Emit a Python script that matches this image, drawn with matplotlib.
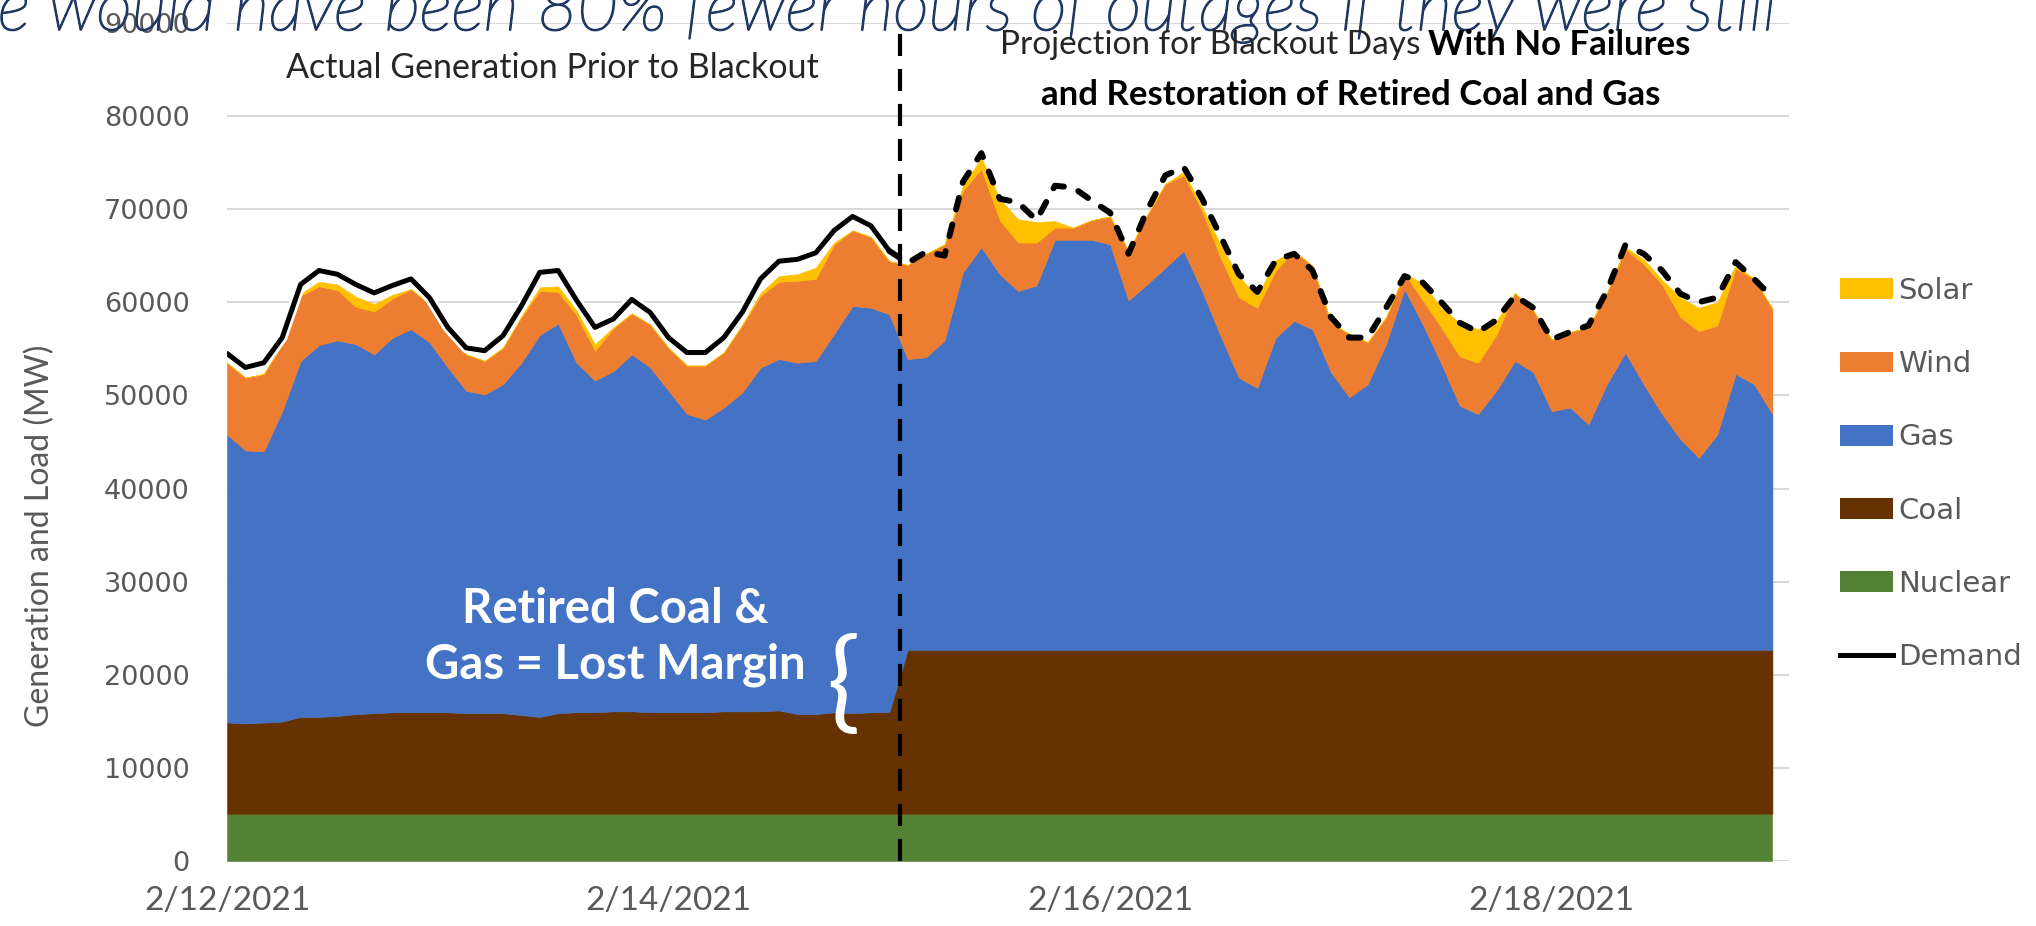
"""ERCOT 发电结构堆叠面积图"""

import matplotlib.pyplot as plt
import matplotlib.patheffects as pe
from matplotlib.lines import Line2D
from matplotlib.patches import Patch

# 数据：每两小时一个点，从 2/12/2021 0:00 开始（单位 MW）
hours = list(range(0, 169, 2))

nuclear = [5100] * 85

coal = [9800, 9700, 9800, 9900, 10400, 10400, 10500, 10700, 10800, 10900,
        10900, 10900, 10900, 10800, 10800, 10800, 10600, 10400, 10800, 10900,
        10900, 11000, 11000, 10900, 10900, 10900, 10900, 11000, 11000, 11000,
        11100, 10700, 10700, 10900, 10800, 10900, 10900] + [17600] * 48

gas = [30900, 29300, 29100, 33300, 38200, 39900, 40300, 39700, 38500, 40200,
       41100, 39700, 37000, 34600, 34200, 35300, 37800, 41000, 41800, 37500,
       35600, 36500, 38300, 37000, 34500, 32000, 31400, 32600, 34200, 36900,
       37700, 37700, 37900, 40600, 43700, 43400, 42700,
       31200, 31400, 33200, 40500, 43200, 40300, 38500, 39100, 44000, 44000,
       44000, 43500, 37500, 39200, 41000, 42800, 38500, 33700, 29200, 28100,
       33500, 35300, 34400, 29800, 27100, 28500, 32800, 38700, 34900, 30700,
       26200, 25300, 27800, 31000, 29800, 25600, 26000, 24200, 28500, 31900,
       28500, 25300, 22600, 20600, 23100, 29600, 28500, 25300]

wind = [7700, 7800, 8300, 7200, 7000, 6300, 5400, 4000, 4600, 4200,
        4300, 4100, 3700, 3900, 3600, 3900, 4900, 4700, 3400, 5100,
        3200, 4600, 4400, 4600, 4600, 5200, 5800, 5900, 7200, 7700,
        8300, 8800, 8800, 9600, 8100, 7600, 5700,
        10100, 11100, 10300, 8800, 8400, 5800, 5200, 4600, 1300, 1300,
        2100, 3000, 5300, 7400, 9000, 8100, 8600, 8400, 8600, 8600,
        7200, 7500, 6800, 5300, 6800, 4500, 2900, 1700, 2600, 3900,
        5300, 5500, 6000, 7300, 6600, 7700, 8100, 10400, 9800, 11100,
        12900, 13900, 13100, 13600, 11700, 11300, 11300, 11300]

solar = [0, 0, 0, 0, 200, 500, 600, 1100, 800, 400,
         0, 0, 0, 0, 0, 0, 100, 400, 600, 500,
         700, 100, 0, 0, 0, 0, 0, 0, 100, 300,
         600, 700, 1200, 200, 0, 0, 0,
         0, 0, 0, 500, 1200, 2300, 2500, 2200, 700, 0,
         0, 0, 0, 0, 0, 400, 400, 1400, 2200, 1300,
         1100, 0, 0, 0, 0, 0, 0, 0, 1800, 2100,
         3600, 3600, 1500, 0, 0, 0, 0, 0, 0, 200,
         500, 500, 2100, 2500, 2500, 400, 0, 0]

demand = [54500, 53000, 53500, 56200, 61900, 63400, 63000, 61900, 61000, 61800,
          62500, 60500, 57300, 55100, 54800, 56400, 59600, 63200, 63400, 60200,
          57300, 58200, 60300, 58900, 56200, 54600, 54600, 56200, 58900, 62500,
          64400, 64600, 65300, 67700, 69200, 68200, 65500,
          64200, 65400, 65000, 72900, 76000, 71100, 70700, 68800, 72500, 72300,
          70900, 69600, 65200, 69800, 73600, 74500, 71100, 67100, 63000, 61100,
          64500, 65200, 63400, 58400, 56200, 56200, 59400, 62800, 62100, 60000,
          57800, 56800, 58100, 60700, 59400, 56000, 56800, 57500, 61200, 66100,
          65200, 63400, 60900, 60000, 60500, 64300, 62500, 60500]

blackout_hour = 73.2
tick_hours = [0, 48, 96, 144]
tick_labels = ['2/12/2021', '2/14/2021', '2/16/2021', '2/18/2021']

series_names = ['Nuclear', 'Coal', 'Gas', 'Wind', 'Solar']
series_colors = ['#548235', '#663300', '#4472C4', '#ED7D31', '#FFC000']

W, H = 2036, 926
body = ['Lato', 'DejaVu Sans']
grey = '#595959'
navy = '#1F3864'

fig = plt.figure(figsize=(W / 100, H / 100), dpi=100)
ax = fig.add_axes([227 / W, 64.6 / H, 1562 / W, 838.8 / H])

# 堆叠面积
ax.stackplot(hours, nuclear, coal, gas, wind, solar, colors=series_colors,
             edgecolor='face', linewidth=0.4, zorder=2)

# 需求曲线：停电前实线，停电期间虚线
split = hours.index(72)
ax.plot(hours[:split + 1], demand[:split + 1], color='black', lw=3.6,
        solid_capstyle='round', solid_joinstyle='round', zorder=4,
        path_effects=[pe.Stroke(linewidth=7.5, foreground='white'), pe.Normal()])
ax.plot(hours[split:], demand[split:], color='black', lw=4.3,
        dashes=(2.0, 2.6), dash_capstyle='round', zorder=4)

# 停电时刻竖线
ax.axvline(blackout_hour, color='black', lw=3.0, dashes=(5.3, 3.1), zorder=5)

ax.set_xlim(0, 169.8)
ax.set_ylim(0, 90000)
ax.set_yticks(range(0, 90001, 10000))
ax.set_xticks(tick_hours)
ax.set_xticklabels(tick_labels)
ax.yaxis.grid(True, color='#D9D9D9', lw=1.5)
ax.set_axisbelow(True)
for s in ax.spines.values():
    s.set_visible(False)
ax.tick_params(axis='both', length=0)
ax.tick_params(axis='y', labelsize=19.5, labelcolor=grey, pad=27)
ax.tick_params(axis='x', labelsize=24, labelcolor=grey, pad=18)
for lab in ax.get_xticklabels():
    lab.set_family(body)

fig.text(40 / W, 1 - 536 / H, 'Generation and Load (MW)', rotation=90,
         ha='center', va='center', fontsize=23, color=grey, family=body)

# 顶部被裁掉的标题（细斜体，描一点边加粗）
fig.text(-2 / W, 1 - 30 / H,
         'e would have been 80% fewer hours of outages if they were still',
         ha='left', va='baseline', fontsize=50, style='italic', weight='light',
         color=navy, family=body,
         path_effects=[pe.withStroke(linewidth=1.3, foreground=navy)])

# 注释文字
fig.text(552 / W, 1 - 68 / H, 'Actual Generation Prior to Blackout',
         ha='center', va='center', fontsize=24.5, color='#262626', family=body)
fig.text(1420 / W, 1 - 45 / H, 'Projection for Blackout Days',
         ha='right', va='center', fontsize=24, color='#262626', family=body)
fig.text(1428 / W, 1 - 45 / H, 'With No Failures',
         ha='left', va='center', fontsize=25, weight='bold', color='black', family=body)
fig.text(1351 / W, 1 - 95 / H, 'and Restoration of Retired Coal and Gas',
         ha='center', va='center', fontsize=25, weight='bold', color='black', family=body)

fig.text(615 / W, 1 - 637 / H, 'Retired Coal &\nGas = Lost Margin',
         ha='center', va='center', multialignment='center', linespacing=1.3,
         fontsize=34, weight='bold', color='white', family=body)
fig.text(843 / W, 1 - 686 / H, '{', ha='center', va='center', fontsize=80,
         color='white', family=body)

# 图例
handles = [Patch(facecolor=c) for c in series_colors[::-1]]
handles.append(Line2D([], [], color='black', lw=3.6))
fig.legend(handles, series_names[::-1] + ['Demand'], loc='upper left',
           bbox_to_anchor=(1840 / W, 1 - 277 / H), frameon=False,
           prop={'family': 'DejaVu Sans', 'size': 21}, labelcolor=grey,
           handlelength=1.8, handleheight=0.72, handletextpad=0.2,
           labelspacing=1.55, borderpad=0, borderaxespad=0)

fig.savefig('out.png', dpi=100)
